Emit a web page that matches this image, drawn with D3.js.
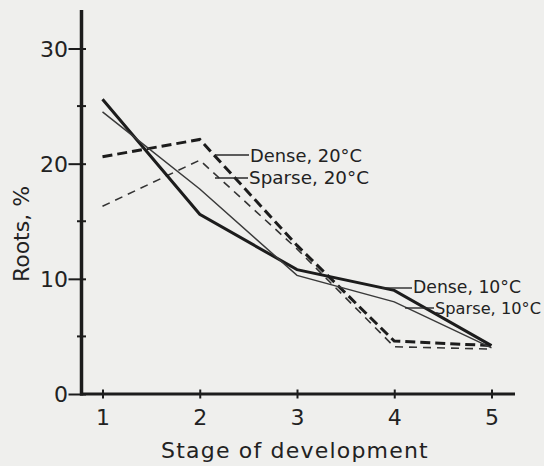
<!DOCTYPE html>
<html>
<head>
<meta charset="utf-8">
<script src="https://cdn.jsdelivr.net/npm/d3@7"></script>
<style>
  html, body { margin: 0; padding: 0; background: #efefed; }
  svg { display: block; }
  text { font-family: "DejaVu Sans", sans-serif; fill: #222; }
</style>
</head>
<body>
<svg id="chart" width="544" height="466"></svg>
<script>
// Stages of development (x) and root share, % (y)
const stages = [1, 2, 3, 4, 5];
const dense10 = [25.6, 15.6, 10.8, 9.0, 4.2];
const sparse10 = [24.5, 17.8, 10.3, 8.0, 4.0];
const dense20 = [20.6, 22.1, 12.9, 4.6, 4.2];
const sparse20 = [16.3, 20.3, 12.6, 4.1, 3.9];

const yMajorTicks = [0, 10, 20, 30];
const yMinorTicks = [5, 15, 25];
const xTickLabels = ["1", "2", "3", "4", "5"];

const seriesNames = ["Dense, 20°C", "Sparse, 20°C", "Dense, 10°C", "Sparse, 10°C"];

const svg = d3.select("#chart");
const ink = "#1c1c1c";

const x = d3.scaleLinear().domain([1, 5]).range([102.5, 491.5]);
const y = d3.scaleLinear().domain([0, 30]).range([394, 48.5]);

// Axes: thick spines, major ticks crossing to the left, minor ticks crossing both sides
svg.append("line")
  .attr("x1", 81.5).attr("x2", 81.5).attr("y1", 10).attr("y2", 395.5)
  .attr("stroke", ink).attr("stroke-width", 3.5);
svg.append("line")
  .attr("x1", 80).attr("x2", 515).attr("y1", 394).attr("y2", 394)
  .attr("stroke", ink).attr("stroke-width", 3);

const yAxis = d3.axisLeft(y).tickValues(yMajorTicks).tickSize(0).tickPadding(0);
const gy = svg.append("g").attr("transform", "translate(81.5,0)").call(yAxis);
gy.select(".domain").remove();
gy.selectAll(".tick text")
  .attr("x", -13.5).attr("dy", "0.36em")
  .style("font-size", "22px").style("font-family", "DejaVu Sans, sans-serif").attr("fill", "#222");
gy.selectAll(".tick").append("line")
  .attr("x1", -13).attr("x2", 4.5).attr("stroke", ink).attr("stroke-width", 2);

svg.append("g").selectAll("line").data(yMinorTicks).join("line")
  .attr("x1", 77).attr("x2", 86)
  .attr("y1", d => y(d)).attr("y2", d => y(d))
  .attr("stroke", ink).attr("stroke-width", 2);

const xAxis = d3.axisBottom(x).tickValues(stages).tickFormat((d, i) => xTickLabels[i]).tickSize(0).tickPadding(0);
const gx = svg.append("g").attr("transform", "translate(0,394)").call(xAxis);
gx.select(".domain").remove();
gx.selectAll(".tick text")
  .attr("y", 31).attr("dy", 0)
  .style("font-size", "22px").style("font-family", "DejaVu Sans, sans-serif").attr("fill", "#222");
gx.selectAll(".tick").append("line")
  .attr("y1", -4.5).attr("y2", 4.5).attr("stroke", ink).attr("stroke-width", 2);

// Axis titles
svg.append("text")
  .attr("x", 295).attr("y", 458)
  .attr("text-anchor", "middle")
  .style("font-size", "22px").style("letter-spacing", "1.2px")
  .text("Stage of development");

svg.append("text")
  .attr("transform", "translate(29,234) rotate(-90)")
  .attr("text-anchor", "middle")
  .style("font-size", "22px")
  .text("Roots, %");

// Series lines
const line = d3.line().x((d, i) => x(stages[i])).y(d => y(d));

const styles = [
  { data: dense20, width: 3, dash: "10,5", color: ink },
  { data: sparse20, width: 1.6, dash: "8,6", color: "#333" },
  { data: dense10, width: 3, dash: null, color: ink },
  { data: sparse10, width: 1.5, dash: null, color: "#3a3a3a" }
];

svg.append("g").selectAll("path").data(styles).join("path")
  .attr("d", s => line(s.data))
  .attr("fill", "none")
  .attr("stroke", s => s.color)
  .attr("stroke-width", s => s.width)
  .attr("stroke-dasharray", s => s.dash)
  .attr("stroke-linejoin", "miter");

// Annotation labels with short horizontal leaders
const notes = [
  { name: seriesNames[0], lx: 215, ly: 155, tx: 250, ty: 161.5, w: 112, fs: 18 },
  { name: seriesNames[1], lx: 215, ly: 178, tx: 249, ty: 183.5, w: 120, fs: 18 },
  { name: seriesNames[2], lx: 382, ly: 288, tx: 413, ty: 293, w: 108, fs: 18 },
  { name: seriesNames[3], lx: 405, ly: 308, tx: 435, ty: 313.5, w: 106, fs: 16.5 }
];

const g = svg.append("g");
g.selectAll("line").data(notes).join("line")
  .attr("x1", d => d.lx).attr("x2", d => d.tx - 1)
  .attr("y1", d => d.ly).attr("y2", d => d.ly)
  .attr("stroke", "#2a2a2a").attr("stroke-width", 1.4);
g.selectAll("text").data(notes).join("text")
  .attr("x", d => d.tx).attr("y", d => d.ty)
  .attr("textLength", d => d.w)
  .attr("lengthAdjust", "spacingAndGlyphs")
  .style("font-size", d => d.fs + "px")
  .text(d => d.name);
</script>
</body>
</html>
